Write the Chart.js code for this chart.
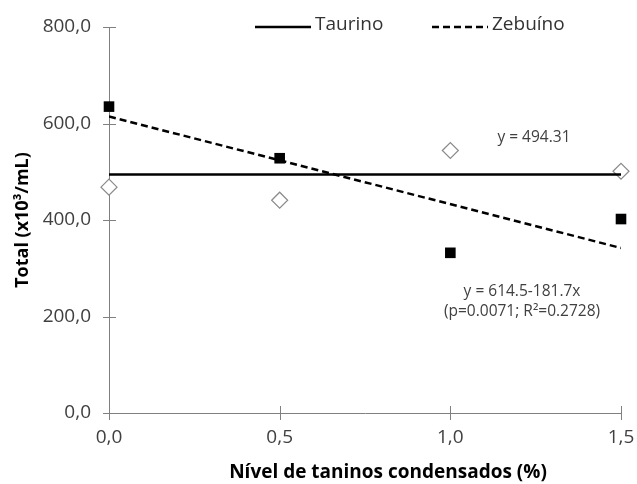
<!DOCTYPE html>
<html>
<head>
<meta charset="utf-8">
<script src="https://cdn.jsdelivr.net/npm/chart.js@4/dist/chart.umd.min.js"></script>
<style>
  html, body { margin: 0; padding: 0; background: #fff; }
  #wrap { width: 637px; height: 484px; position: relative; }
</style>
</head>
<body>
<div id="wrap"><canvas id="chart"></canvas></div>
<script>
// Data
const levels = [0, 0.5, 1.0, 1.5];                 // Nível de taninos condensados (%)
const taurinoValues = [468, 441, 544, 501];       // open diamonds
const zebuinoValues = [635, 528, 332, 402];       // filled squares
const trendX = [0, 1.5];
const taurinoTrend = [494.31, 494.31];            // y = 494.31
const zebuinoTrend = [614.5, 342.0];              // y = 614.5-181.7x
const xTickLabels = ['0,0', '0,5', '1,0', '1,5'];
const yTickLabels = ['0,0', '200,0', '400,0', '600,0', '800,0'];
const xTitle = 'Nível de taninos condensados (%)';

const FONT = "'Open Sans', sans-serif";
const TEXT = '#404040';
const AXIS = '#808080';

function pts(xs, ys) {
    return xs.map((x, i) => ({ x: x, y: ys[i] }));
}

// Excel style ticks crossing the axis lines
const crossTicks = {
    id: 'crossTicks',
    afterDatasetsDraw(chart) {
        const ctx = chart.ctx;
        const xs = chart.scales.x, ys = chart.scales.y;
        const x0 = Math.round(xs.getPixelForValue(0)), y0 = Math.round(ys.getPixelForValue(0));
        ctx.save();
        ctx.setLineDash([]);
        ctx.strokeStyle = AXIS;
        ctx.lineWidth = 1;
        ys.ticks.forEach(t => {
            const py = Math.round(ys.getPixelForValue(t.value)) + 0.5;
            ctx.beginPath();
            ctx.moveTo(x0 - 6, py);
            ctx.lineTo(x0 + 7, py);
            ctx.stroke();
        });
        xs.ticks.forEach(t => {
            const px = Math.round(xs.getPixelForValue(t.value)) + 0.5;
            ctx.beginPath();
            ctx.moveTo(px, y0 - 7);
            ctx.lineTo(px, y0 + 7);
            ctx.stroke();
        });
        ctx.restore();
    }
};

// Legend with line samples only
const lineLegend = {
    id: 'lineLegend',
    afterDraw(chart) {
        const ctx = chart.ctx;
        const items = [
            { ds: chart.data.datasets[0], x: 255 },
            { ds: chart.data.datasets[1], x: 432 }
        ];
        ctx.save();
        ctx.font = '19px ' + FONT;
        ctx.fillStyle = '#333';
        ctx.textBaseline = 'middle';
        items.forEach(it => {
            ctx.strokeStyle = it.ds.borderColor;
            ctx.lineWidth = it.ds.borderWidth;
            ctx.setLineDash(it.ds.borderDash || []);
            ctx.beginPath();
            ctx.moveTo(it.x, 27);
            ctx.lineTo(it.x + 56, 27);
            ctx.stroke();
            ctx.fillText(it.ds.label, it.x + 60, 25);
        });
        ctx.restore();
    }
};

// Regression equations (data coordinates) and the x axis title
const equations = {
    id: 'equations',
    afterDraw(chart) {
        const ctx = chart.ctx;
        const xs = chart.scales.x, ys = chart.scales.y;
        ctx.save();
        ctx.font = '15.5px ' + FONT;
        ctx.fillStyle = TEXT;
        ctx.textAlign = 'center';
        ctx.textBaseline = 'middle';
        ctx.fillText('y = 494.31', xs.getPixelForValue(1.245), ys.getPixelForValue(571));
        ctx.fillText('y = 614.5-181.7x', xs.getPixelForValue(1.21), ys.getPixelForValue(252));
        ctx.fillText('(p=0.0071; R²=0.2728)', xs.getPixelForValue(1.21), ys.getPixelForValue(211));

        ctx.font = 'bold 19px ' + FONT;
        ctx.fillStyle = '#000';
        ctx.fillText(xTitle, 388, 473);
        ctx.restore();
    }
};

new Chart(document.getElementById('chart'), {
    type: 'scatter',
    data: {
        datasets: [
            {
                label: 'Taurino',
                type: 'line',
                data: pts(trendX, taurinoTrend),
                borderColor: '#000',
                borderWidth: 2.5,
                pointRadius: 0,
                fill: false
            },
            {
                label: 'Zebuíno',
                type: 'line',
                data: pts(trendX, zebuinoTrend),
                borderColor: '#000',
                borderWidth: 2.5,
                borderDash: [7, 4],
                pointRadius: 0,
                fill: false
            },
            {
                label: 'Taurino (obs.)',
                data: pts(levels, taurinoValues),
                pointStyle: 'rectRot',
                pointRadius: 8,
                backgroundColor: '#fff',
                borderColor: '#8a8a8a',
                borderWidth: 1.2,
                clip: false
            },
            {
                label: 'Zebuíno (obs.)',
                data: pts(levels, zebuinoValues),
                pointStyle: 'rect',
                pointRadius: 7.5,
                backgroundColor: '#000',
                borderColor: '#000',
                borderWidth: 0,
                clip: false
            }
        ]
    },
    options: {
        responsive: true,
        maintainAspectRatio: false,
        animation: false,
        events: [],
        layout: { padding: { top: 27, right: 16, left: 0, bottom: 0 } },
        plugins: {
            legend: { display: false },
            tooltip: { enabled: false }
        },
        scales: {
            x: {
                type: 'linear',
                min: 0,
                max: 1.5,
                afterFit: s => { s.height = 71; s.paddingRight = 0; s.paddingLeft = 0; },
                grid: { display: false },
                border: { display: true, color: AXIS, width: 1 },
                ticks: {
                    stepSize: 0.5,
                    padding: 5,
                    color: TEXT,
                    font: { family: FONT, size: 19 },
                    callback: (v, i) => xTickLabels[i]
                }
            },
            y: {
                min: 0,
                max: 800,
                afterFit: s => { s.width = 109; },
                grid: { display: false },
                border: { display: true, color: AXIS, width: 1 },
                ticks: {
                    stepSize: 200,
                    padding: 10,
                    color: TEXT,
                    font: { family: FONT, size: 19 },
                    callback: (v, i) => yTickLabels[i]
                },
                title: {
                    display: true,
                    text: 'Total (x10³/mL)',
                    color: '#000',
                    font: { family: FONT, size: 18, weight: 'bold' },
                    padding: { top: 12, bottom: 0 }
                }
            }
        }
    },
    plugins: [crossTicks, lineLegend, equations]
});
</script>
</body>
</html>
